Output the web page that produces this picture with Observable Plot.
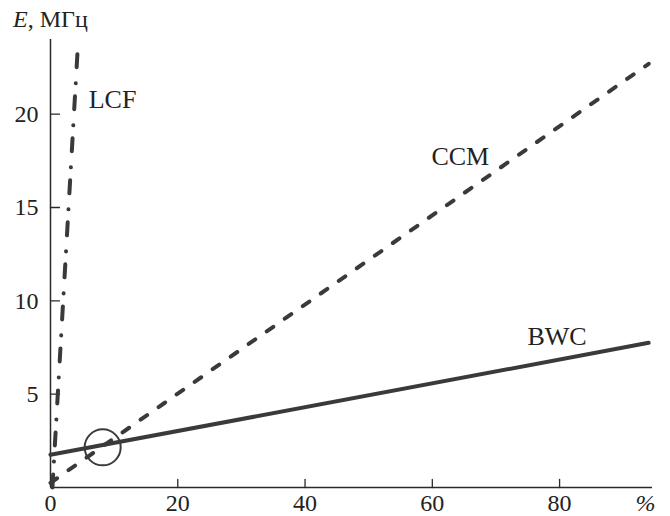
<!DOCTYPE html>
<html><head><meta charset="utf-8">
<script src="https://cdn.jsdelivr.net/npm/d3@7"></script>
<script src="https://cdn.jsdelivr.net/npm/@observablehq/plot@0.6"></script>
<style>body{margin:0;background:#fff} svg text{font-family:"Liberation Serif","Times New Roman",serif;}</style>
</head><body><div id="chart"></div>
<script>
// --- data ---
const bwcX = [0, 94];      const bwcE = [1.75, 7.75];
const ccmX = [0, 94];      const ccmE = [0.25, 22.7];
const lcfX = [0.3, 4.25];  const lcfE = [0, 23.35];
const xTicks = [0, 20, 40, 60, 80];
const xInnerTicks = [20, 40, 60, 80];
const yTicks = [5, 10, 15, 20];
const xUnit = "%";          const xUnitAt = 93.5;
const yLabelItalic = "E";   const yLabelRest = ", МГц";
const labelNames = ["LCF", "CCM", "BWC"];
const labelX = [9.75, 64.4, 79.6];
const labelE = [20.8, 17.7, 8.06];
const markX = [8.2];        const markE = [2.15];

const rows = (xs, es) => xs.map((x, i) => ({x, e: es[i]}));
const ink = "#3a3a3a", axisInk = "#2a2a2a", font = "Liberation Serif";
const tickShape = {draw(context, l) { context.moveTo(0, 0); context.lineTo(0, -l); }};

const plot = Plot.plot({
  width: 670, height: 516,
  marginLeft: 50, marginRight: 18, marginTop: 39, marginBottom: 29,
  x: {domain: [0, 94.6], label: null},
  y: {domain: [0, 24], label: null},
  style: {background: "#fff", color: "#222"},
  marks: [
    Plot.axisX(xTicks, {tickSize: 0, tickPadding: 6, fontSize: 24, fontFamily: font, label: null}),
    Plot.axisY(yTicks, {tickSize: 0, tickPadding: 12, fontSize: 24, fontFamily: font, label: null}),
    Plot.text([xUnit], {x: xUnitAt, y: 0, text: d => d, lineAnchor: "top", dy: 6, fontStyle: "italic", fontSize: 24, fontFamily: font}),
    Plot.ruleY([0], {stroke: axisInk, strokeWidth: 1.5}),
    Plot.ruleX([0], {stroke: axisInk, strokeWidth: 1.5}),
    Plot.vector(xInnerTicks, {x: d => d, y: 0, length: 8, rotate: 0, anchor: "start", shape: tickShape, stroke: axisInk, strokeWidth: 1.3}),
    Plot.vector(yTicks, {x: 0, y: d => d, length: 9, rotate: 90, anchor: "start", shape: tickShape, stroke: axisInk, strokeWidth: 1.3}),
    Plot.line(rows(bwcX, bwcE), {x: "x", y: "e", stroke: ink, strokeWidth: 4}),
    Plot.line(rows(ccmX, ccmE), {x: "x", y: "e", stroke: ink, strokeWidth: 4, strokeDasharray: "8,14", strokeLinecap: "round"}),
    Plot.line(rows(lcfX, lcfE), {x: "x", y: "e", stroke: ink, strokeWidth: 4, strokeDasharray: "13,13,0.1,16", strokeLinecap: "round"}),
    Plot.dot(rows(markX, markE), {x: "x", y: "e", r: 18, stroke: ink, strokeWidth: 2, fill: "none"}),
    Plot.text(labelNames.map((t, i) => ({t, x: labelX[i], e: labelE[i]})), {x: "x", y: "e", text: "t", fontSize: 26, fontFamily: font, fill: "#222"})
  ]
});

const svg = d3.select(plot);
const lab = svg.append("text").attr("x", 13).attr("y", 27)
  .attr("text-anchor", "start")
  .attr("font-family", font).attr("font-size", 24).attr("fill", "#222");
lab.append("tspan").attr("font-style", "italic").text(yLabelItalic);
lab.append("tspan").text(yLabelRest);
document.getElementById("chart").append(plot);
</script>
</body></html>
